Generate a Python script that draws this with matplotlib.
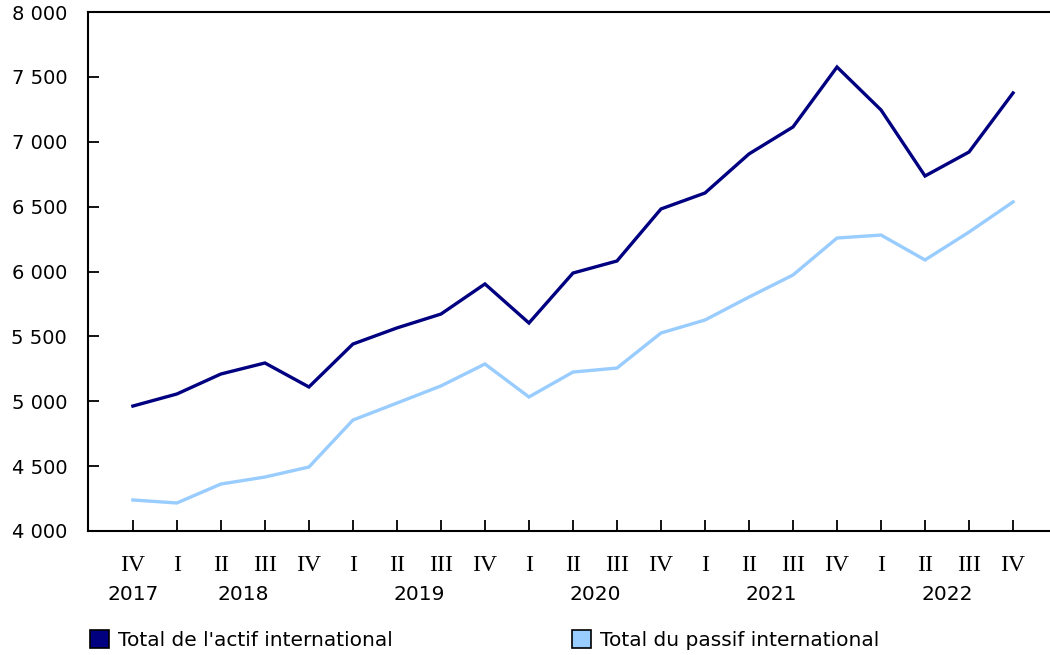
"""International assets and liabilities, quarterly, 2017-IV to 2022-IV."""

import matplotlib

matplotlib.use("Agg")
import matplotlib.pyplot as plt
import matplotlib.transforms as mtransforms
from matplotlib.patches import Patch
from matplotlib.ticker import FuncFormatter

QUARTERS = ["IV",
            "I", "II", "III", "IV",
            "I", "II", "III", "IV",
            "I", "II", "III", "IV",
            "I", "II", "III", "IV",
            "I", "II", "III", "IV"]
YEARS = ["2017",
         "2018", "2018", "2018", "2018",
         "2019", "2019", "2019", "2019",
         "2020", "2020", "2020", "2020",
         "2021", "2021", "2021", "2021",
         "2022", "2022", "2022", "2022"]

ASSETS = [4963, 5056, 5210, 5295, 5110, 5441, 5565, 5672, 5904, 5603, 5988,
          6081, 6482, 6605, 6906, 7114, 7576, 7245, 6736, 6921, 7376]
LIABILITIES = [4239, 4216, 4362, 4416, 4493, 4855, 4986, 5118, 5287, 5033,
               5225, 5256, 5526, 5626, 5803, 5973, 6258, 6281, 6089, 6304, 6536]

SERIES_LABELS = ["Total de l'actif international", "Total du passif international"]
COLORS = ["#000080", "#99ccff"]

FONT = 14.5


def space_thousands(value, _pos):
    return f"{int(value):,}".replace(",", " ")


fig = plt.figure(figsize=(10.5, 6.55), dpi=100)
ax = fig.add_axes([88 / 1050, 1 - 531 / 655, 1 - 88 / 1050, (531 - 12) / 655])

x = list(range(len(QUARTERS)))
for values, color in zip([ASSETS, LIABILITIES], COLORS):
    ax.plot(x, values, color=color, linewidth=2.4, solid_joinstyle="miter")

ax.set_ylim(4000, 8000)
ax.set_xlim(-1.02, 20.84)
ax.set_yticks(range(4000, 8001, 500))
ax.yaxis.set_major_formatter(FuncFormatter(space_thousands))
ax.set_xticks(x)
ax.set_xticklabels(QUARTERS, family="Liberation Serif", fontsize=17)

ax.tick_params(axis="y", direction="in", length=8, width=1.3,
               labelsize=14, pad=15)
ax.tick_params(axis="x", direction="in", length=8, width=1.3, pad=17)

for side in ["left", "bottom", "top"]:
    ax.spines[side].set_linewidth(1.5)
ax.spines["right"].set_visible(False)

# year labels centred under their quarters
trans = mtransforms.blended_transform_factory(ax.transData, ax.transAxes)
for year in dict.fromkeys(YEARS):
    idx = [i for i, y in enumerate(YEARS) if y == year]
    ax.text(sum(idx) / len(idx), -0.122, year, transform=trans,
            ha="center", va="center", fontsize=FONT)

handles = [Patch(facecolor=c, edgecolor="black", linewidth=1.2) for c in COLORS]
fig.legend(handles, SERIES_LABELS, loc="center left",
           bbox_to_anchor=(72 / 1050, 1 - 640 / 655), ncol=2, frameon=False,
           fontsize=FONT, handlelength=0.95, handleheight=0.95,
           handletextpad=0.45, columnspacing=8.9)

fig.savefig("out.png", dpi=100)
